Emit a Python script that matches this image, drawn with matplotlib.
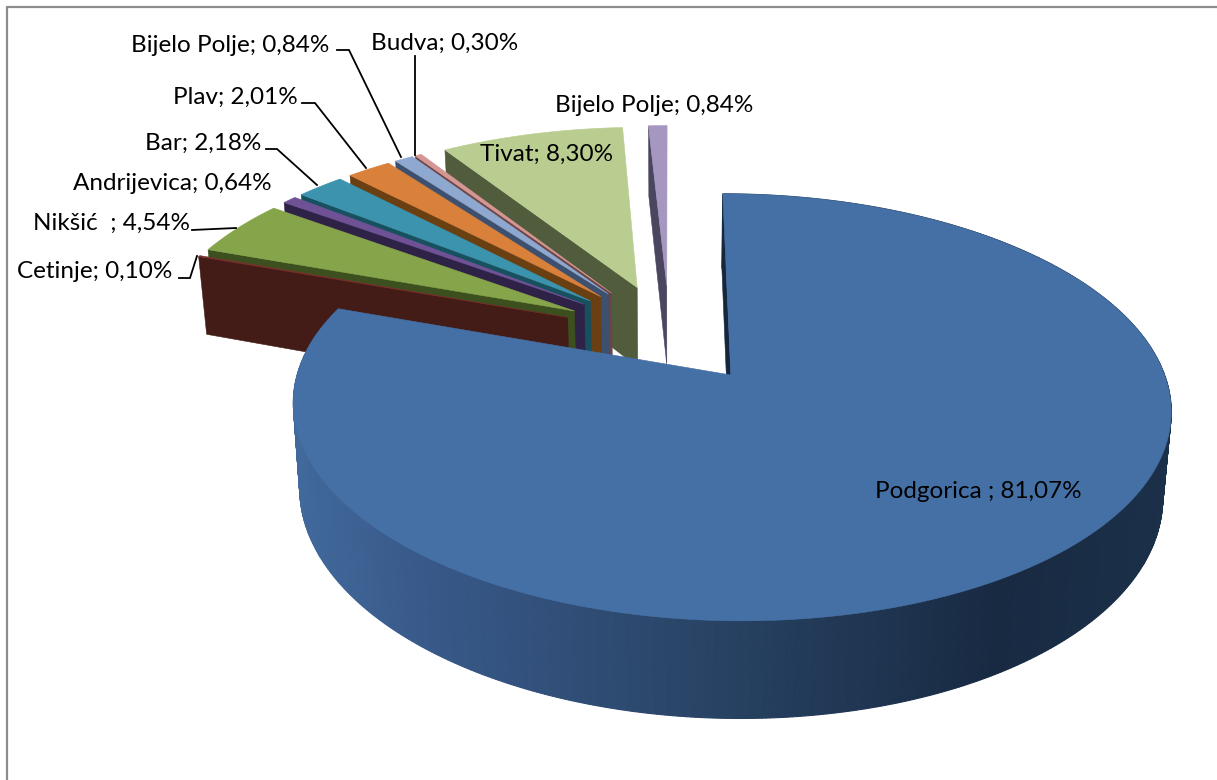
#!/usr/bin/env python3
"""3D exploded pie: shares by municipality, drawn with a small perspective projection."""

import matplotlib

matplotlib.use("Agg")

import matplotlib.pyplot as plt
import numpy as np
from matplotlib.colors import to_rgb
from matplotlib.patches import Polygon

cities = ["Podgorica ", "Cetinje", "Nikšić  ", "Andrijevica", "Bar", "Plav",
          "Bijelo Polje", "Budva", "Tivat", "Bijelo Polje"]
shares = [81.07, 0.10, 4.54, 0.64, 2.18, 2.01, 0.84, 0.30, 8.30, 0.84]

top_colors = ["#4570a5", "#7a2f2c", "#86a44a", "#6f5295", "#3b93ad", "#d9803a",
              "#8ea8d0", "#d69693", "#b9cd91", "#a597c0"]
side_colors = ["#16263d", "#431c17", "#3c4f1f", "#2f2247", "#17505f", "#6a3f12",
               "#3d506f", "#6a4545", "#515c3d", "#4b4660"]

# label left edge / vertical centre in pixels, same order as cities
label_x = [875, 17, 33, 73, 145, 173, 131, 371, 480, 555]
label_y = [491, 271, 223, 183, 143, 97, 45, 43, 154, 105]

leaders = [
    [(179, 278), (190, 278), (197, 256)],
    [(192, 230), (236, 228)],
    [(266, 149), (277, 149), (317, 185)],
    [(302, 103), (315, 103), (366, 168)],
    [(337, 50), (349, 50), (401, 157)],
    [(415, 56), (415, 155)],
]

# projection
CX, CY = 669.5, 334.5
RX, RY = 421, 196.5
PERSP = 0.147
EXPLODE_BIG = 0.245
EXPLODE_SMALL = 0.26
DEPTH = 82
SHRINK = 0.017

# wall gradient of the big slice, along screen x
wall_x = [295, 420, 700, 1000, 1175]
wall_col = ["#41699b", "#38598a", "#294466", "#182a42", "#1b3049"]


def project(x, v, z=0.0):
    s = 1 / (1 + PERSP * v)
    return CX + RX * x * s * (1 - SHRINK * z), CY - RY * v * s + DEPTH * z * s ** 0.9


def wall_colour(px):
    rgb = np.array([to_rgb(c) for c in wall_col])
    return [np.interp(px, wall_x, rgb[:, i]) for i in range(3)]


def draw_slice(ax, a1, a2, top, side, explode, gradient=False):
    mid = np.radians((a1 + a2) / 2)
    ox, ov = explode * np.sin(mid), explode * np.cos(mid)
    th = np.radians(np.linspace(a1, a2, max(int((a2 - a1) * 2), 8)))
    rim_x, rim_v = ox + np.sin(th), ov + np.cos(th)

    if gradient:
        for i in range(len(th) - 1):
            quad = [project(rim_x[i], rim_v[i]), project(rim_x[i + 1], rim_v[i + 1]),
                    project(rim_x[i + 1], rim_v[i + 1], 1), project(rim_x[i], rim_v[i], 1)]
            col = wall_colour(quad[0][0])
            ax.add_patch(Polygon(quad, closed=True, fc=col, ec=col, lw=0.8))

    face = [project(ox, ov), project(rim_x[0], rim_v[0]),
            project(rim_x[0], rim_v[0], 1), project(ox, ov, 1)]
    ax.add_patch(Polygon(face, closed=True, fc=side, ec=side, lw=0.4))

    pts = [project(ox, ov)] + [project(x, v) for x, v in zip(rim_x, rim_v)]
    ax.add_patch(Polygon(pts, closed=True, fc=top, ec=top, lw=0.4))


def main():
    plt.rcParams["font.family"] = ["Lato", "DejaVu Sans"]
    fig = plt.figure(figsize=(12.17, 7.8), dpi=100)
    ax = fig.add_axes([0, 0, 1, 1])
    ax.set_xlim(0, 1217)
    ax.set_ylim(780, 0)
    ax.axis("off")

    # only the top and left frame lines are in the crop
    ax.plot([6.5, 6.5, 1217], [780, 6.5, 6.5], color="#8c8c8c", lw=1.6)

    edges = np.concatenate([[0], np.cumsum(shares)]) / sum(shares) * 360
    # back slices first, big slice last
    for i in range(len(shares) - 1, -1, -1):
        explode = EXPLODE_BIG if i == 0 else EXPLODE_SMALL
        draw_slice(ax, edges[i], edges[i + 1], top_colors[i], side_colors[i], explode, gradient=i == 0)

    for line in leaders:
        xs, ys = zip(*line)
        ax.plot(xs, ys, color="black", lw=1.3, solid_joinstyle="miter")

    for name, val, x, y in zip(cities, shares, label_x, label_y):
        txt = f"{name}; {val:.2f}%".replace(".", ",")
        ax.text(x, y, txt, fontsize=17.5, color="black", ha="left", va="center")

    fig.savefig("out.png", dpi=100)
    plt.close(fig)


if __name__ == "__main__":
    main()
